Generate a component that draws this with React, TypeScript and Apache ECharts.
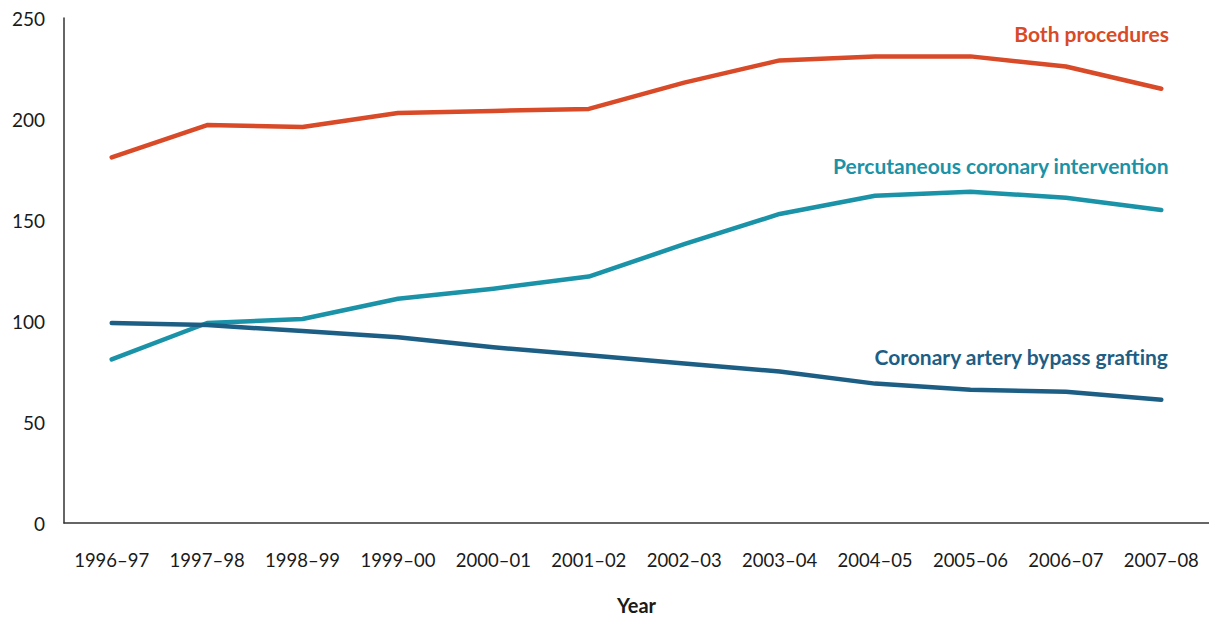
import React, { useEffect, useRef } from "react";
import * as echarts from "echarts";

const years = ["1996–97", "1997–98", "1998–99", "1999–00", "2000–01", "2001–02", "2002–03", "2003–04", "2004–05", "2005–06", "2006–07", "2007–08"];
const bothProcedures = [181, 197, 196, 203, 204, 205, 218, 229, 231, 231, 226, 215];
const pci = [81, 99, 101, 111, 116, 122, 138, 153, 162, 164, 161, 155];
const cabg = [99, 98, 95, 92, 87, 83, 79, 75, 69, 66, 65, 61];
const yTicks = { min: 0, max: 250, interval: 50 };

const C_BOTH = "#D84A28";
const C_PCI = "#1A92A7";
const C_CABG = "#1D5E85";
const FONT = "Lato";

export default function App() {
  const ref = useRef<HTMLDivElement>(null);
  useEffect(() => {
    document.body.style.margin = "0";
    const chart = echarts.init(ref.current!, null, { renderer: "svg" });
    const lineSeries = (name: string, data: number[], color: string) => ({
      name,
      type: "line",
      data,
      symbol: "none",
      lineStyle: { color, width: 4.5, cap: "round", join: "round" },
      itemStyle: { color },
    });
    chart.setOption({
      animation: false,
      backgroundColor: "#ffffff",
      grid: { left: 64, top: 18, height: 509, width: 1150, containLabel: false },
      xAxis: {
        type: "category",
        data: years,
        boundaryGap: true,
        name: "Year",
        nameLocation: "middle",
        nameGap: 72,
        nameTextStyle: { fontFamily: FONT, fontWeight: "bold", fontSize: 20, color: "#1a1a1a" },
        axisLine: { lineStyle: { color: "#333", width: 1.5 } },
        axisTick: { show: false },
        axisLabel: { interval: 0, margin: 27, fontFamily: FONT, fontSize: 18.5, color: "#1a1a1a" },
      },
      yAxis: {
        type: "value",
        min: yTicks.min,
        max: yTicks.max,
        interval: yTicks.interval,
        splitLine: { show: false },
        axisLine: { show: true, lineStyle: { color: "#333", width: 1.5 } },
        axisTick: { show: false },
        axisLabel: { margin: 19, fontFamily: FONT, fontSize: 19, color: "#1a1a1a" },
      },
      series: [
        lineSeries("Both procedures", bothProcedures, C_BOTH),
        lineSeries("Percutaneous coronary intervention", pci, C_PCI),
        lineSeries("Coronary artery bypass grafting", cabg, C_CABG),
      ],
      graphic: [
        { type: "text", right: 40, top: 23, style: { text: "Both procedures", fill: C_BOTH, font: `bold 21px ${FONT}` } },
        { type: "text", right: 40, top: 155, style: { text: "Percutaneous coronary intervention", fill: C_PCI, font: `bold 21px ${FONT}` } },
        { type: "text", right: 40, top: 346, style: { text: "Coronary artery bypass grafting", fill: C_CABG, font: `bold 21px ${FONT}` } },
      ],
    });
    return () => chart.dispose();
  }, []);
  return <div ref={ref} style={{ width: 1209, height: 620 }} />;
}
